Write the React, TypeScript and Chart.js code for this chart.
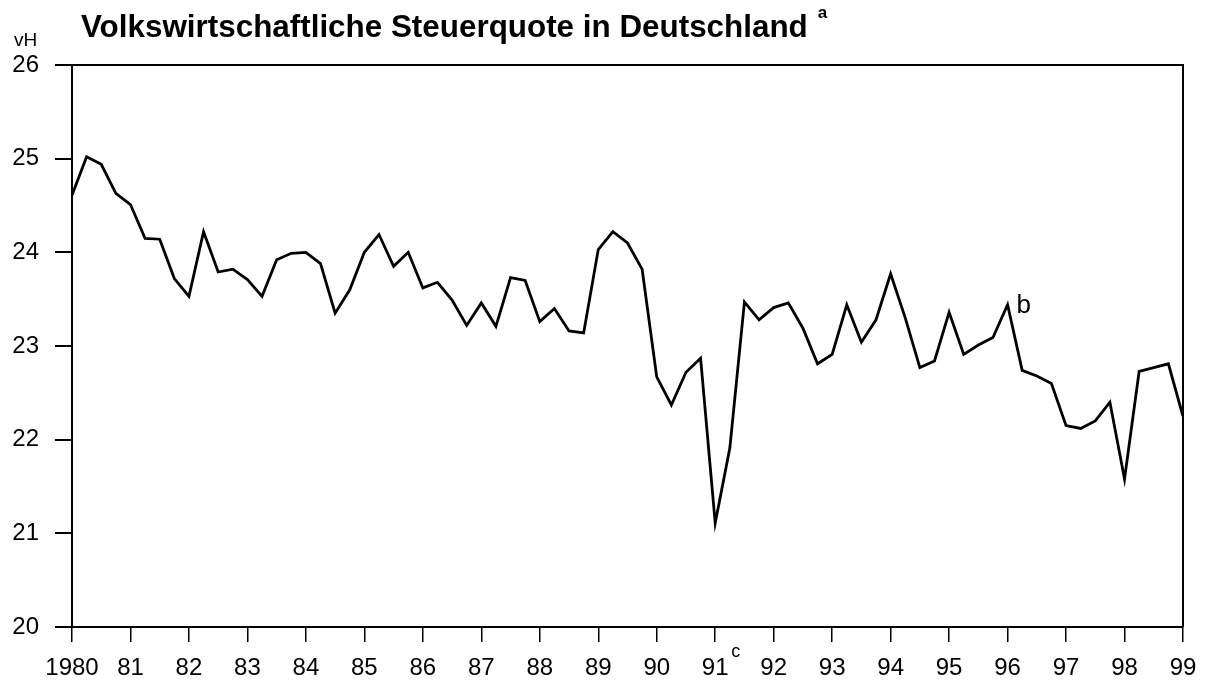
import React, { useEffect, useRef } from "react";
import { Chart, registerables } from "chart.js";

Chart.register(...registerables);

const startYear = 1980;
const endYear = 1999;
const quartersPerYear = 4;
const titleText = "Volkswirtschaftliche Steuerquote in Deutschland";
const unitLabel = "vH";
const yTicksMin = 20;
const yTicksMax = 26;

// Quarterly tax ratio values (vH), 1980 Q1 .. 1999 Q1
const taxRatio = [
  24.61, 25.02, 24.94, 24.63,
  24.51, 24.15, 24.14, 23.72,
  23.53, 24.22, 23.79, 23.82,
  23.71, 23.53, 23.92, 23.99,
  24.0, 23.88, 23.35, 23.6,
  24.0, 24.19, 23.85, 24.0,
  23.62, 23.68, 23.49, 23.22,
  23.46, 23.21, 23.73, 23.7,
  23.26, 23.4, 23.16, 23.14,
  24.03, 24.22, 24.1, 23.82,
  22.67, 22.37, 22.72, 22.87,
  21.11, 21.91, 23.47, 23.28,
  23.41, 23.46, 23.19, 22.81,
  22.91, 23.44, 23.04, 23.28,
  23.77, 23.3, 22.77, 22.84,
  23.36, 22.91, 23.01, 23.09,
  23.44, 22.74, 22.68, 22.6,
  22.15, 22.12, 22.2, 22.4,
  21.58, 22.73, 22.77, 22.81,
  22.25,
];

const FONT = "'Liberation Sans', Arial, Helvetica, sans-serif";

const decorPlugin = {
  id: "decor",
  afterDraw(chart: any) {
    const { ctx, chartArea, scales } = chart;
    const xs = scales.x;
    const ys = scales.y;
    ctx.save();
    // frame top and right
    ctx.strokeStyle = "#000";
    ctx.lineWidth = 2;
    ctx.beginPath();
    ctx.moveTo(chartArea.left, chartArea.top);
    ctx.lineTo(chartArea.right, chartArea.top);
    ctx.lineTo(chartArea.right, chartArea.bottom);
    ctx.stroke();

    ctx.fillStyle = "#000";
    ctx.textBaseline = "alphabetic";
    ctx.textAlign = "left";
    // title
    ctx.font = `bold 31.4px ${FONT}`;
    ctx.fillText(titleText, 81, 37);
    const tw = ctx.measureText(titleText).width;
    ctx.font = `bold 17px ${FONT}`;
    ctx.fillText("a", 81 + tw + 10, 18);
    // unit
    ctx.font = `19px ${FONT}`;
    ctx.fillText(unitLabel, 14, 46);
    // b annotation
    ctx.font = `26px ${FONT}`;
    ctx.fillText("b", xs.getPixelForValue(1996) + 9, ys.getPixelForValue(23.44) + 8);
    // c superscript near 91
    ctx.font = `18px ${FONT}`;
    ctx.fillText("c", xs.getPixelForValue(1991) + 16, 657);
    ctx.restore();
  },
};

export default function App() {
  const ref = useRef<HTMLCanvasElement | null>(null);

  useEffect(() => {
    if (!ref.current) return;
    const points = taxRatio.map((v, i) => ({ x: startYear + i / quartersPerYear, y: v }));
    const chart = new Chart(ref.current, {
      type: "line",
      data: {
        datasets: [
          {
            data: points,
            borderColor: "#000",
            borderWidth: 2.8,
            pointRadius: 0,
            tension: 0,
            fill: false,
          },
        ],
      },
      options: {
        responsive: false,
        animation: false,
        layout: { padding: { top: 65, right: 22, left: 0, bottom: 0 } },
        plugins: {
          legend: { display: false },
          tooltip: { enabled: false },
          title: { display: false },
        },
        scales: {
          x: {
            type: "linear",
            min: startYear,
            max: endYear,
            ticks: {
              stepSize: 1,
              autoSkip: false,
              maxRotation: 0,
              color: "#000",
              padding: 12,
              font: { family: FONT, size: 24 },
              callback: (v: any) => (v === startYear ? String(v) : String(v % 100).padStart(2, "0")),
            },
            grid: {
              drawOnChartArea: false,
              drawTicks: true,
              tickLength: 15,
              color: "#000",
              lineWidth: 1.5,
            },
            border: { display: true, color: "#000", width: 2 },
            afterFit: (s: any) => {
              s.height = 54;
              s.paddingLeft = 0;
              s.paddingRight = 0;
            },
          },
          y: {
            min: yTicksMin,
            max: yTicksMax,
            ticks: {
              stepSize: 1,
              color: "#000",
              padding: 16,
              font: { family: FONT, size: 24 },
            },
            grid: {
              drawOnChartArea: false,
              drawTicks: true,
              tickLength: 17,
              color: "#000",
              lineWidth: 2,
            },
            border: { display: true, color: "#000", width: 2 },
            afterFit: (s: any) => {
              s.width = 72;
            },
          },
        },
      },
      plugins: [decorPlugin],
    });
    return () => chart.destroy();
  }, []);

  return (
    <div style={{ position: "absolute", left: 0, top: 0, width: 1205, height: 681, background: "#fff" }}>
      <canvas ref={ref} width={1205} height={681} />
    </div>
  );
}
